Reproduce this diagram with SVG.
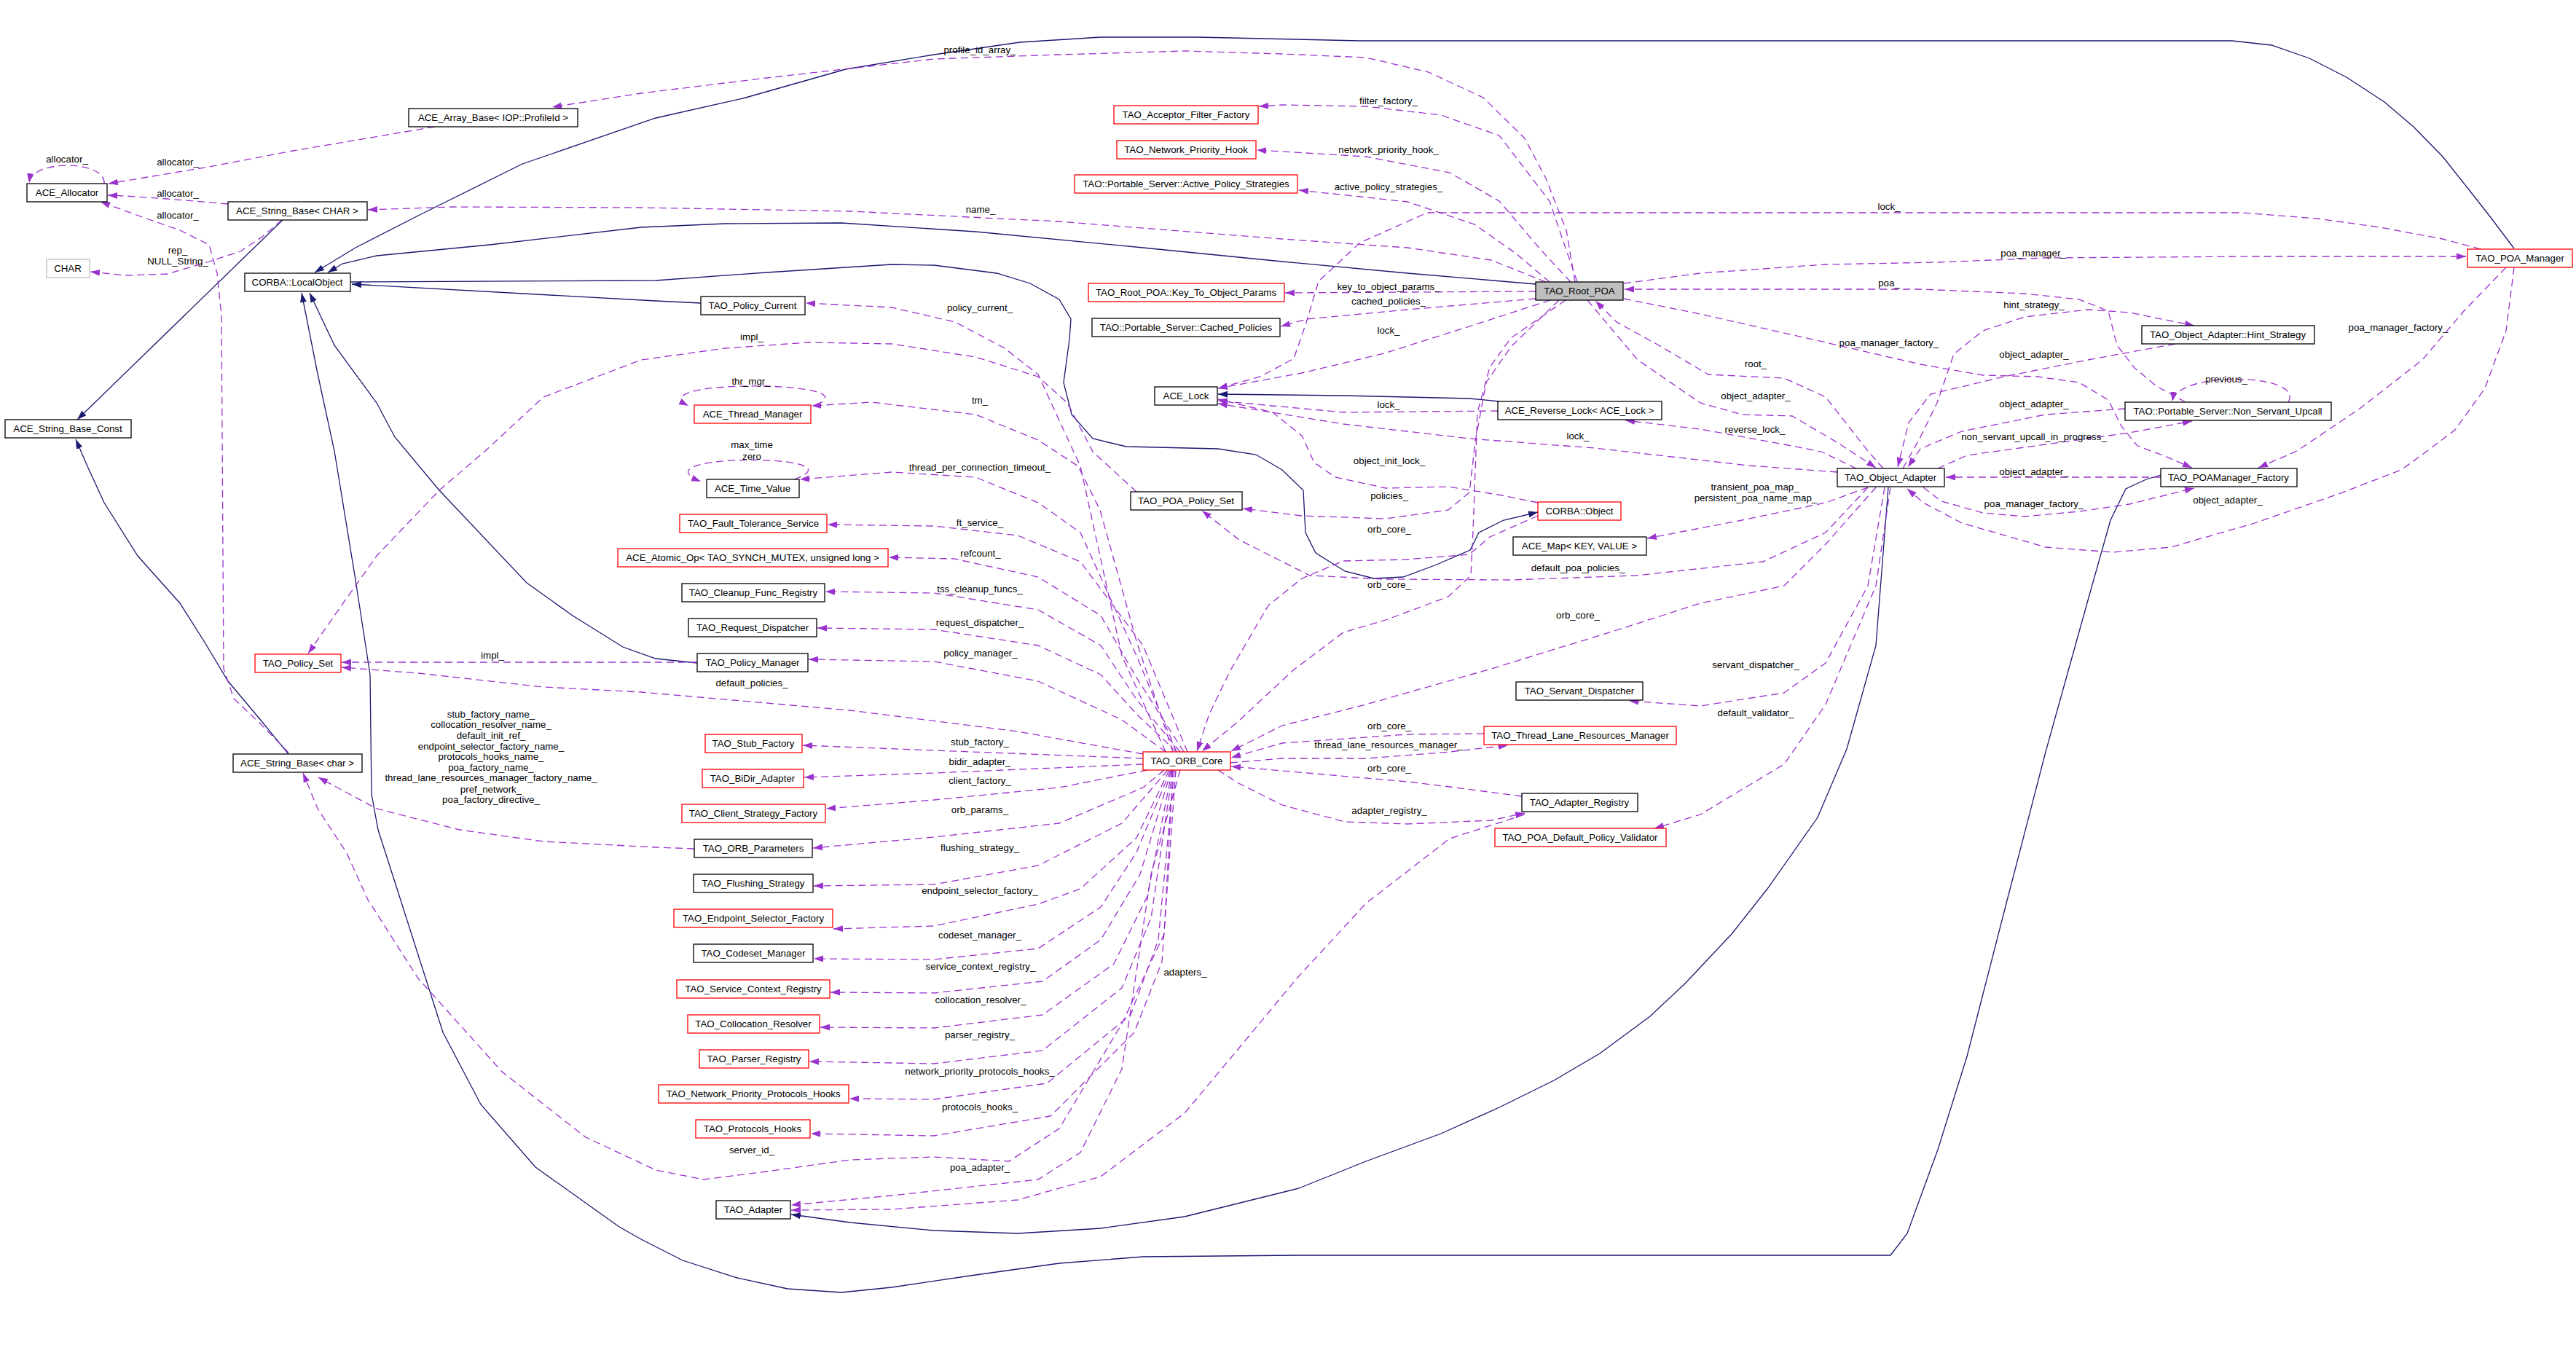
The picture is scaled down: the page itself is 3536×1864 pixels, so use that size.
<svg xmlns="http://www.w3.org/2000/svg" width="3536" height="1864" viewBox="0 0 3536 1864">
<style>
text{font-family:"Liberation Sans",Arial,sans-serif;font-size:13.3px;fill:#000;text-anchor:middle}
.n rect{fill:#fff;stroke:#000;stroke-width:1.3}
.n.r rect{stroke:#f00}
.n.g rect{stroke:#bfbfbf}
.n.m rect{fill:#bfbfbf}
.e{fill:none;stroke:#9a32cd;stroke-width:1.3;stroke-dasharray:10,6;marker-end:url(#ap)}
.i{fill:none;stroke:#191970;stroke-width:1.3;marker-end:url(#an)}
</style>
<defs>
<marker id="ap" markerUnits="userSpaceOnUse" markerWidth="14" markerHeight="10" refX="13" refY="5" orient="auto" viewBox="0 0 14 10"><path d="M0,0.5 L13,5 L0,9.5 z" fill="#9a32cd"/></marker>
<marker id="an" markerUnits="userSpaceOnUse" markerWidth="14" markerHeight="10" refX="13" refY="5" orient="auto" viewBox="0 0 14 10"><path d="M0,0.5 L13,5 L0,9.5 z" fill="#191970"/></marker>
</defs>
<rect width="3536" height="1864" fill="#fff"/>
<g id="connectors">
<!-- inheritance -->
<path class="i" d="M388,302 L106,576"/>
<path class="i" d="M396,1035 L355,985 L313,935 L280,880 L247,828 L189,763 L143,690 L120,640 L104,603"/>
<path class="i" d="M3451,341 L3417,296 L3388,259 L3353,215 L3313,174 L3273,140 L3221,106 L3170,80 L3118,62 L3064,56 L1866,56 L1780,54 L1643,51 L1511,51 L1400,58 L1282,75 L1161,95 L1020,135 L900,162 L717,225 L574,296 L488,340 L432,374"/>
<path class="i" d="M2108,390 L1932,375 L1760,359 L1569,340 L1339,318 L1155,306 L995,307 L880,312 L672,336 L517,351 L470,362 L450,374"/>
<path class="i" d="M962,416 L900,413 L483,390"/>
<path class="i" d="M482,387 L900,385 L1052,374 L1224,363 L1282,364 L1368,375 L1414,389 L1454,411 L1470,438 L1468,466 L1460,525 L1471,569 L1500,602 L1546,613 L1672,616 L1724,624 L1760,645 L1789,673 L1792,731 L1806,759 L1846,784 L1886,794 L1926,792 L1972,775 L2018,755 L2030,731 L2064,714 L2111,703"/>
<path class="i" d="M957,910 L900,904 L855,888 L786,845 L723,800 L603,673 L542,600 L517,553 L459,474 L425,402"/>
<path class="i" d="M2966,652 L2946,658 L2918,671 L2897,714 L2866,824 L2808,1032 L2754,1240 L2700,1450 L2660,1578 L2618,1693 L2595,1723 L1780,1723 L1569,1725 L1454,1734 L1339,1750 L1224,1767 L1155,1774 L1081,1769 L1012,1754 L937,1730 L880,1701 L850,1684 L735,1602 L660,1516 L608,1417 L545,1220 L519,1139 L510,1090 L508,926 L488,796 L459,619 L436,513 L414,402"/>
<path class="i" d="M2058,551 L2017,547 L1844,543 L1672,541"/>
<path class="i" d="M2592,669 L2575,886 L2535,1028 L2495,1122 L2426,1220 L2377,1282 L2314,1349 L2265,1395 L2196,1446 L2133,1483 L2058,1520 L1978,1556 L1875,1594 L1783,1631 L1626,1670 L1511,1686 L1397,1693 L1282,1689 L1167,1678 L1086,1667"/>
<!-- usage -->
<g><path class="e" d="M2162,387 L2150,316 L2122,245 L2093,190 L2036,134 L1961,99 L1875,79 L1760,74 L1626,70 L1454,75 L1282,81 L1167,94 L1052,107 L880,128 L758,147"/><text x="1345" y="73">profile_id_array_</text></g>
<g><path class="e" d="M2165,387 L2127,276 L2058,186 L1978,158 L1875,146 L1760,144 L1728,146"/><text x="1906" y="143">filter_factory_</text></g>
<g><path class="e" d="M2156,387 L2116,344 L2058,276 L1990,237 L1875,215 L1760,208 L1725,206"/><text x="1906" y="210">network_priority_hook_</text></g>
<g><path class="e" d="M2127,387 L2081,348 L2024,308 L1932,277 L1783,261"/><text x="1906" y="261">active_policy_strategies_</text></g>
<g><path class="e" d="M2122,387 L2047,357 L1932,340 L1760,328 L1454,304 L1167,290 L880,285 L620,284 L505,288"/><text x="1346" y="292">name_</text></g>
<g><path class="e" d="M3405,342 L3353,328 L3267,312 L3181,300 L3078,292 L1959,292 L1867,333 L1810,386 L1793,443 L1776,492 L1730,517 L1672,533"/><text x="2593" y="288">lock_</text></g>
<g><path class="e" d="M2229,389 L2334,375 L2506,363 L2660,360 L2808,354 L3095,352 L3385,352"/><text x="2791" y="352">poa_manager_</text></g>
<g><path class="e" d="M3000,552 L2960,530 L2930,505 L2906,474 L2894,427 L2854,411 L2779,403 L2636,397 L2230,397"/><text x="2593" y="393">poa_</text></g>
<g><path class="e" d="M2229,410 L2334,431 L2506,470 L2636,500 L2722,515 L2797,517 L2854,525 L2894,549 L2912,585 L2934,612 L2969,625 L3009,642"/><text x="2593" y="475">poa_manager_factory_</text></g>
<g><path class="e" d="M2108,400 L1764,402"/><text x="1906" y="398">key_to_object_params_</text></g>
<g><path class="e" d="M2108,410 L1932,425 L1794,438 L1758,448"/><text x="1906" y="418">cached_policies_</text></g>
<g><path class="e" d="M2128,412 L2017,448 L1900,485 L1787,512 L1672,533"/><text x="1906" y="458">lock_</text></g>
<g><path class="e" d="M2585,643 L2564,619 L2506,545 L2449,519 L2345,514 L2277,474 L2219,442 L2190,413"/><text x="2410" y="504">root_</text></g>
<g><path class="e" d="M2179,412 L2248,494 L2334,553 L2391,569 L2460,571 L2523,608 L2575,642"/><text x="2410" y="548">object_adapter_</text></g>
<g><path class="e" d="M2548,643 L2500,620 L2449,610 L2334,589 L2231,577"/><text x="2409" y="594">reverse_lock_</text></g>
<g><path class="e" d="M2522,648 L2400,639 L2189,615 L2017,602 L1844,582 L1672,554"/><text x="2166" y="603">lock_</text></g>
<g><path class="e" d="M2056,564 L1844,566 L1672,550"/><text x="1906" y="560">lock_</text></g>
<g><path class="e" d="M2111,690 L2062,680 L1988,668 L1902,670 L1833,655 L1804,635 L1787,598 L1747,566 L1672,548"/><text x="1907" y="637">object_init_lock_</text></g>
<g><path class="e" d="M2140,412 L2074,476 L2040,525 L2025,606 L2017,676 L1988,700 L1902,712 L1787,708 L1706,698"/><text x="1907" y="685">policies_</text></g>
<g><path class="e" d="M2111,708 L2045,737 L2017,761 L1930,768 L1844,770 L1787,794 L1741,831 L1689,920 L1660,980 L1643,1031"/><text x="1907" y="731">orb_core_</text></g>
<g><path class="e" d="M2149,412 L2074,464 L2045,504 L2028,566 L2025,647 L2022,729 L2019,790 L1988,819 L1902,851 L1844,868 L1775,920 L1700,990 L1650,1031"/><text x="1907" y="807">orb_core_</text></g>
<g><path class="e" d="M2575,669 L2506,747 L2449,804 L2334,828 L2219,865 L2047,918 L1875,967 L1760,996 L1690,1031"/><text x="2166" y="849">orb_core_</text></g>
<g><path class="e" d="M2564,669 L2506,731 L2420,771 L2246,790 L2074,796 L1902,795 L1798,790 L1701,741 L1650,701"/><text x="2166" y="784">default_poa_policies_</text></g>
<g><path class="e" d="M2564,669 L2506,690 L2391,714 L2261,739"/><text x="2409" y="673">transient_poa_map_</text><text x="2410" y="688">persistent_poa_name_map_</text></g>
<g><path class="e" d="M2587,669 L2564,804 L2506,910 L2449,951 L2334,969 L2236,962"/><text x="2410" y="917">servant_dispatcher_</text></g>
<g><path class="e" d="M2595,669 L2575,804 L2506,967 L2449,1049 L2334,1118 L2271,1137"/><text x="2410" y="983">default_validator_</text></g>
<g><path class="e" d="M2037,1007 L1932,1008 L1760,1020 L1690,1040"/><text x="1907" y="1001">orb_core_</text></g>
<g><path class="e" d="M1689,1047 L1760,1041 L1875,1041 L1990,1032 L2070,1023"/><text x="1906" y="1027">thread_lane_resources_manager_</text></g>
<g><path class="e" d="M2089,1093 L1990,1080 L1932,1073 L1760,1058 L1690,1052"/><text x="1907" y="1059">orb_core_</text></g>
<g><path class="e" d="M1672,1057 L1700,1075 L1760,1105 L1846,1128 L1932,1131 L2047,1126 L2093,1116"/><text x="1907" y="1117">adapter_registry_</text></g>
<g><path class="e" d="M2093,1118 L1990,1151 L1875,1240 L1780,1343 L1712,1425 L1626,1528 L1511,1615 L1397,1647 L1224,1660 L1086,1661"/><text x="1627" y="1339">adapters_</text></g>
<g><path class="e" d="M1620,1057 L1580,1200 L1540,1467 L1483,1582 L1425,1619 L1224,1641 L1086,1654"/><text x="1345" y="1607">poa_adapter_</text></g>
<g><path class="e" d="M1610,1057 L1598,1282 L1540,1405 L1454,1549 L1385,1594 L1282,1588 L1167,1592 L1052,1608 L966,1619 L900,1606 L804,1561 L689,1471 L574,1343 L505,1235 L476,1171 L436,1110 L416,1061"/><text x="1032" y="1583">server_id_</text></g>
<g><path class="e" d="M953,1165 L900,1163 L746,1155 L631,1139 L517,1110 L437,1067"/><text x="674" y="985">stub_factory_name_</text><text x="674" y="999">collocation_resolver_name_</text><text x="674" y="1014">default_init_ref_</text><text x="674" y="1029">endpoint_selector_factory_name_</text><text x="674" y="1043">protocols_hooks_name_</text><text x="674" y="1058">poa_factory_name_</text><text x="674" y="1072">thread_lane_resources_manager_factory_name_</text><text x="674" y="1088">pref_network_</text><text x="674" y="1102">poa_factory_directive_</text></g>
<g><path class="e" d="M396,1033 L356,992 L321,959 L307,918 L305,600 L304,434 L298,375 L287,336 L247,316 L201,300 L138,277"/><text x="244" y="300">allocator_</text></g>
<g><path class="e" d="M387,302 L360,325 L330,345 L287,359 L230,376 L172,378 L124,373"/><text x="244" y="348">rep_</text><text x="244" y="363">NULL_String_</text></g>
<g><path class="e" d="M313,280 L230,273 L172,269 L148,268"/><text x="244" y="270">allocator_</text></g>
<g><path class="e" d="M597,174 L402,207 L287,229 L149,252"/><text x="244" y="227">allocator_</text></g>
<g><path class="e" d="M143,252 C146,220 44,218 40,251"/><text x="92" y="223">allocator_</text></g>
<g><path class="e" d="M1560,675 L1500,620 L1465,553 L1425,517 L1339,490 L1224,472 L1110,470 L995,478 L880,494 L746,545 L666,619 L603,673 L517,763 L459,845 L423,897"/><text x="1032" y="467">impl_</text></g>
<g><path class="e" d="M957,909 L469,909"/><text x="676" y="904">impl_</text></g>
<g><path class="e" d="M1569,1035 L1397,1004 L1167,975 L880,950 L746,943 L574,924 L469,916"/><text x="1032" y="942">default_policies_</text></g>
<g><path class="e" d="M1600,1032 L1540,900 L1483,640 L1425,514 L1379,478 L1311,442 L1224,422 L1106,416"/><text x="1345" y="427">policy_current_</text></g>
<g><path class="e" d="M1120,556 C1200,522 875,520 945,557"/><text x="1031" y="528">thr_mgr_</text></g>
<g><path class="e" d="M1610,1032 L1560,880 L1510,700 L1480,640 L1425,604 L1339,569 L1196,552 L1114,557"/><text x="1345" y="554">tm_</text></g>
<g><path class="e" d="M1090,658 C1190,622 868,622 962,661"/><text x="1032" y="615">max_time</text><text x="1032" y="631">zero</text></g>
<g><path class="e" d="M1615,1032 L1560,900 L1483,731 L1425,690 L1339,655 L1224,648 L1098,658"/><text x="1345" y="646">thread_per_connection_timeout_</text></g>
<g><path class="e" d="M1630,1032 L1569,886 L1483,771 L1397,735 L1282,722 L1136,720"/><text x="1345" y="722">ft_service_</text></g>
<g><path class="e" d="M1625,1032 L1560,930 L1511,845 L1425,792 L1310,767 L1220,765"/><text x="1346" y="764">refcount_</text></g>
<g><path class="e" d="M1620,1032 L1560,960 L1511,886 L1425,837 L1282,814 L1133,812"/><text x="1345" y="813">tss_cleanup_funcs_</text></g>
<g><path class="e" d="M1615,1032 L1560,980 L1511,926 L1425,886 L1282,864 L1122,862"/><text x="1345" y="859">request_dispatcher_</text></g>
<g><path class="e" d="M1600,1032 L1540,988 L1425,935 L1282,908 L1110,905"/><text x="1346" y="901">policy_manager_</text></g>
<g><path class="e" d="M1569,1041 L1282,1030 L1102,1023"/><text x="1345" y="1023">stub_factory_</text></g>
<g><path class="e" d="M1569,1049 L1282,1061 L1104,1067"/><text x="1345" y="1050">bidir_adapter_</text></g>
<g><path class="e" d="M1575,1057 L1454,1081 L1282,1098 L1134,1110"/><text x="1345" y="1076">client_factory_</text></g>
<g><path class="e" d="M1598,1057 L1569,1081 L1454,1130 L1282,1149 L1116,1164"/><text x="1345" y="1116">orb_params_</text></g>
<g><path class="e" d="M1603,1057 L1540,1130 L1425,1188 L1282,1214 L1117,1216"/><text x="1345" y="1168">flushing_strategy_</text></g>
<g><path class="e" d="M1605,1057 L1560,1150 L1483,1220 L1425,1241 L1282,1271 L1144,1275"/><text x="1345" y="1227">endpoint_selector_factory_</text></g>
<g><path class="e" d="M1607,1057 L1560,1170 L1511,1245 L1425,1302 L1282,1317 L1117,1316"/><text x="1345" y="1288">codeset_manager_</text></g>
<g><path class="e" d="M1608,1057 L1565,1200 L1511,1290 L1431,1347 L1282,1363 L1140,1362"/><text x="1346" y="1331">service_context_registry_</text></g>
<g><path class="e" d="M1609,1057 L1575,1230 L1529,1323 L1431,1393 L1282,1411 L1126,1410"/><text x="1346" y="1377">collocation_resolver_</text></g>
<g><path class="e" d="M1610,1057 L1580,1260 L1540,1356 L1431,1442 L1282,1460 L1111,1457"/><text x="1345" y="1425">parser_registry_</text></g>
<g><path class="e" d="M1612,1057 L1590,1290 L1552,1393 L1437,1487 L1282,1509 L1166,1508"/><text x="1345" y="1475">network_priority_protocols_hooks_</text></g>
<g><path class="e" d="M1614,1057 L1595,1320 L1557,1417 L1442,1532 L1282,1559 L1113,1556"/><text x="1345" y="1524">protocols_hooks_</text></g>
<g><path class="e" d="M2612,643 L2636,600 L2659,553 L2682,486 L2722,454 L2779,435 L2866,425 L2923,429 L3012,447"/><text x="2792" y="423">hint_strategy_</text></g>
<g><path class="e" d="M2986,472 L2866,494 L2751,517 L2650,541 L2620,580 L2605,641"/><text x="2792" y="491">object_adapter_</text></g>
<g><path class="e" d="M2917,561 L2808,569 L2693,592 L2636,616 L2619,641"/><text x="2792" y="559">object_adapter_</text></g>
<g><path class="e" d="M2660,643 L2700,625 L2808,610 L2923,594 L3009,578"/><text x="2792" y="604">non_servant_upcall_in_progress_</text></g>
<g><path class="e" d="M3141,552 C3165,512 2988,508 2982,551"/><text x="3056" y="525">previous_</text></g>
<g><path class="e" d="M2966,655 L2671,655"/><text x="2792" y="652">object_adapter_</text></g>
<g><path class="e" d="M2640,669 L2665,688 L2722,704 L2779,709 L2854,702 L2923,692 L3012,670"/><text x="2792" y="696">poa_manager_factory_</text></g>
<g><path class="e" d="M3451,367 L3440,454 L3411,533 L3370,590 L3325,624 L3296,645 L3210,678 L3095,718 L2980,751 L2900,758 L2808,751 L2693,718 L2640,690 L2618,671"/><text x="3058" y="691">object_adapter_</text></g>
<g><path class="e" d="M3440,367 L3382,427 L3325,494 L3239,561 L3153,619 L3100,642"/><text x="3292" y="454">poa_manager_factory_</text></g>
</g>
<g id="n_ACE_Allocator" class="n"><rect x="37" y="252" width="110" height="25"/><text x="92" y="269">ACE_Allocator</text></g>
<g id="n_ACE_Array_Base" class="n"><rect x="561" y="149" width="232" height="25"/><text x="677" y="166">ACE_Array_Base&lt; IOP::ProfileId &gt;</text></g>
<g id="n_ACE_String_Base_CHAR" class="n"><rect x="313" y="277" width="191" height="25"/><text x="408" y="294">ACE_String_Base&lt; CHAR &gt;</text></g>
<g id="n_CHAR" class="n g"><rect x="64" y="356" width="59" height="25"/><text x="93" y="373">CHAR</text></g>
<g id="n_CORBA_LocalObject" class="n"><rect x="336" y="375" width="145" height="25"/><text x="408" y="392">CORBA::LocalObject</text></g>
<g id="n_ACE_String_Base_Const" class="n"><rect x="7" y="576" width="173" height="25"/><text x="93" y="593">ACE_String_Base_Const</text></g>
<g id="n_TAO_Acceptor_Filter_Factory" class="n r"><rect x="1529" y="145" width="198" height="25"/><text x="1628" y="162">TAO_Acceptor_Filter_Factory</text></g>
<g id="n_TAO_Network_Priority_Hook" class="n r"><rect x="1533" y="193" width="191" height="25"/><text x="1628" y="210">TAO_Network_Priority_Hook</text></g>
<g id="n_Active_Policy_Strategies" class="n r"><rect x="1475" y="240" width="306" height="25"/><text x="1628" y="257">TAO::Portable_Server::Active_Policy_Strategies</text></g>
<g id="n_TAO_Policy_Current" class="n"><rect x="962" y="407" width="143" height="25"/><text x="1033" y="424">TAO_Policy_Current</text></g>
<g id="n_Key_To_Object_Params" class="n r"><rect x="1494" y="389" width="269" height="25"/><text x="1628" y="406">TAO_Root_POA::Key_To_Object_Params</text></g>
<g id="n_Cached_Policies" class="n"><rect x="1499" y="437" width="258" height="25"/><text x="1628" y="454">TAO::Portable_Server::Cached_Policies</text></g>
<g id="n_ACE_Lock" class="n"><rect x="1585" y="531" width="86" height="25"/><text x="1628" y="548">ACE_Lock</text></g>
<g id="n_ACE_Thread_Manager" class="n r"><rect x="953" y="556" width="160" height="25"/><text x="1033" y="573">ACE_Thread_Manager</text></g>
<g id="n_TAO_Root_POA" class="n m"><rect x="2108" y="387" width="120" height="25"/><text x="2168" y="404">TAO_Root_POA</text></g>
<g id="n_ACE_Reverse_Lock" class="n"><rect x="2056" y="551" width="225" height="25"/><text x="2168" y="568">ACE_Reverse_Lock&lt; ACE_Lock &gt;</text></g>
<g id="n_TAO_POA_Manager" class="n r"><rect x="3387" y="342" width="144" height="25"/><text x="3459" y="359">TAO_POA_Manager</text></g>
<g id="n_Hint_Strategy" class="n"><rect x="2940" y="447" width="237" height="25"/><text x="3058" y="464">TAO_Object_Adapter::Hint_Strategy</text></g>
<g id="n_Non_Servant_Upcall" class="n"><rect x="2917" y="552" width="283" height="25"/><text x="3058" y="569">TAO::Portable_Server::Non_Servant_Upcall</text></g>
<g id="n_TAO_POAManager_Factory" class="n"><rect x="2966" y="643" width="187" height="25"/><text x="3059" y="660">TAO_POAManager_Factory</text></g>
<g id="n_TAO_Object_Adapter" class="n"><rect x="2522" y="643" width="147" height="25"/><text x="2595" y="660">TAO_Object_Adapter</text></g>
<g id="n_CORBA_Object" class="n r"><rect x="2111" y="689" width="114" height="25"/><text x="2168" y="706">CORBA::Object</text></g>
<g id="n_ACE_Map" class="n"><rect x="2077" y="737" width="183" height="25"/><text x="2168" y="754">ACE_Map&lt; KEY, VALUE &gt;</text></g>
<g id="n_TAO_Servant_Dispatcher" class="n"><rect x="2081" y="936" width="174" height="25"/><text x="2168" y="953">TAO_Servant_Dispatcher</text></g>
<g id="n_TAO_Thread_Lane_Resources_Manager" class="n r"><rect x="2037" y="997" width="264" height="25"/><text x="2169" y="1014">TAO_Thread_Lane_Resources_Manager</text></g>
<g id="n_TAO_Adapter_Registry" class="n"><rect x="2089" y="1089" width="159" height="25"/><text x="2168" y="1106">TAO_Adapter_Registry</text></g>
<g id="n_TAO_POA_Default_Policy_Validator" class="n r"><rect x="2052" y="1137" width="235" height="25"/><text x="2169" y="1154">TAO_POA_Default_Policy_Validator</text></g>
<g id="n_TAO_POA_Policy_Set" class="n"><rect x="1552" y="675" width="153" height="25"/><text x="1628" y="692">TAO_POA_Policy_Set</text></g>
<g id="n_ACE_Time_Value" class="n"><rect x="970" y="658" width="127" height="25"/><text x="1033" y="675">ACE_Time_Value</text></g>
<g id="n_TAO_Fault_Tolerance_Service" class="n r"><rect x="933" y="706" width="202" height="25"/><text x="1034" y="723">TAO_Fault_Tolerance_Service</text></g>
<g id="n_ACE_Atomic_Op" class="n r"><rect x="848" y="753" width="371" height="25"/><text x="1033" y="770">ACE_Atomic_Op&lt; TAO_SYNCH_MUTEX, unsigned long &gt;</text></g>
<g id="n_TAO_Cleanup_Func_Registry" class="n"><rect x="936" y="801" width="196" height="25"/><text x="1034" y="818">TAO_Cleanup_Func_Registry</text></g>
<g id="n_TAO_Request_Dispatcher" class="n"><rect x="945" y="849" width="176" height="25"/><text x="1033" y="866">TAO_Request_Dispatcher</text></g>
<g id="n_TAO_Policy_Manager" class="n"><rect x="957" y="897" width="152" height="25"/><text x="1033" y="914">TAO_Policy_Manager</text></g>
<g id="n_TAO_Stub_Factory" class="n r"><rect x="968" y="1008" width="133" height="25"/><text x="1034" y="1025">TAO_Stub_Factory</text></g>
<g id="n_TAO_ORB_Core" class="n r"><rect x="1569" y="1032" width="120" height="25"/><text x="1629" y="1049">TAO_ORB_Core</text></g>
<g id="n_TAO_BiDir_Adapter" class="n r"><rect x="964" y="1056" width="139" height="25"/><text x="1033" y="1073">TAO_BiDir_Adapter</text></g>
<g id="n_TAO_Client_Strategy_Factory" class="n r"><rect x="936" y="1104" width="197" height="25"/><text x="1034" y="1121">TAO_Client_Strategy_Factory</text></g>
<g id="n_TAO_ORB_Parameters" class="n"><rect x="953" y="1152" width="162" height="25"/><text x="1034" y="1169">TAO_ORB_Parameters</text></g>
<g id="n_TAO_Flushing_Strategy" class="n"><rect x="952" y="1200" width="164" height="25"/><text x="1034" y="1217">TAO_Flushing_Strategy</text></g>
<g id="n_TAO_Endpoint_Selector_Factory" class="n r"><rect x="925" y="1248" width="218" height="25"/><text x="1034" y="1265">TAO_Endpoint_Selector_Factory</text></g>
<g id="n_TAO_Codeset_Manager" class="n"><rect x="952" y="1296" width="164" height="25"/><text x="1034" y="1313">TAO_Codeset_Manager</text></g>
<g id="n_TAO_Service_Context_Registry" class="n r"><rect x="929" y="1345" width="210" height="25"/><text x="1034" y="1362">TAO_Service_Context_Registry</text></g>
<g id="n_TAO_Collocation_Resolver" class="n r"><rect x="944" y="1393" width="181" height="25"/><text x="1034" y="1410">TAO_Collocation_Resolver</text></g>
<g id="n_TAO_Parser_Registry" class="n r"><rect x="960" y="1441" width="150" height="25"/><text x="1035" y="1458">TAO_Parser_Registry</text></g>
<g id="n_TAO_Network_Priority_Protocols_Hooks" class="n r"><rect x="904" y="1489" width="261" height="25"/><text x="1034" y="1506">TAO_Network_Priority_Protocols_Hooks</text></g>
<g id="n_TAO_Protocols_Hooks" class="n r"><rect x="955" y="1537" width="157" height="25"/><text x="1033" y="1554">TAO_Protocols_Hooks</text></g>
<g id="n_TAO_Adapter" class="n"><rect x="983" y="1648" width="102" height="25"/><text x="1034" y="1665">TAO_Adapter</text></g>
<g id="n_TAO_Policy_Set" class="n r"><rect x="350" y="898" width="118" height="25"/><text x="409" y="915">TAO_Policy_Set</text></g>
<g id="n_ACE_String_Base_char" class="n"><rect x="320" y="1035" width="177" height="25"/><text x="408" y="1052">ACE_String_Base&lt; char &gt;</text></g>
</svg>
